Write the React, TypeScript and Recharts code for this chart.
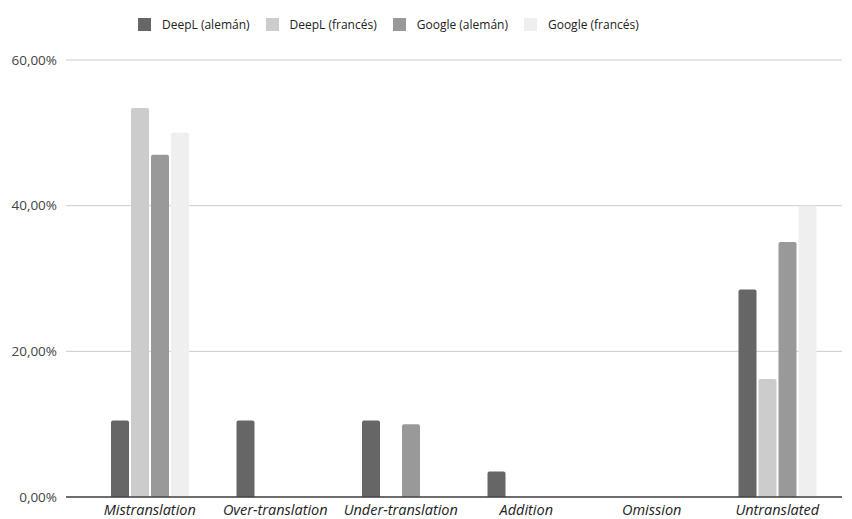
import React from "react";
import {
  BarChart,
  Bar,
  XAxis,
  YAxis,
  CartesianGrid,
  Legend,
} from "recharts";

const categories = [
  "Mistranslation",
  "Over-translation",
  "Under-translation",
  "Addition",
  "Omission",
  "Untranslated",
];
const deeplAleman = [10.5, 10.5, 10.5, 3.5, 0, 28.5];
const deeplFrances = [53.4, 0, 0, 0, 0, 16.2];
const googleAleman = [47, 0, 10, 0, 0, 35];
const googleFrances = [50, 0, 0, 0, 0, 40];
const yTicks = [0, 20, 40, 60];

const series = [
  { key: "deeplAleman", name: "DeepL (alemán)", color: "#666666" },
  { key: "deeplFrances", name: "DeepL (francés)", color: "#cccccc" },
  { key: "googleAleman", name: "Google (alemán)", color: "#999999" },
  { key: "googleFrances", name: "Google (francés)", color: "#efefef" },
];

const data = categories.map((c, i) => ({
  category: c,
  deeplAleman: deeplAleman[i],
  deeplFrances: deeplFrances[i],
  googleAleman: googleAleman[i],
  googleFrances: googleFrances[i],
}));

const font = "'Open Sans', sans-serif";

const fmt = (v: number) => `${v.toFixed(2).replace(".", ",")}%`;

const LegendContent = () => (
  <div
    style={{
      display: "flex",
      justifyContent: "flex-start",
      alignItems: "center",
      gap: 16,
      fontFamily: font,
      fontSize: 12,
      color: "#222",
      paddingLeft: 138,
    }}
  >
    {series.map((s) => (
      <div key={s.key} style={{ display: "flex", alignItems: "center", gap: 11 }}>
        <span
          style={{
            display: "inline-block",
            width: 13,
            height: 13,
            background: s.color,
          }}
        />
        <span>{s.name}</span>
      </div>
    ))}
  </div>
);

const XTick = (props: any) => {
  const { x, y, payload } = props;
  return (
    <text
      x={x}
      y={y + 10}
      textAnchor="middle"
      fontFamily={font}
      fontSize={14.5}
      fontStyle="italic"
      fill="#222"
    >
      {payload.value}
    </text>
  );
};

export default function App() {
  return (
    <div style={{ position: "absolute", left: 0, top: 0, background: "#fff" }}>
      <BarChart
        width={852}
        height={519}
        data={data}
        margin={{ top: 43, right: 10, bottom: 0, left: 0 }}
        barSize={18}
        barGap={2}
      >
        <CartesianGrid vertical={false} stroke="#cccccc" />
        <Legend
          verticalAlign="top"
          height={17}
          content={<LegendContent />}
          wrapperStyle={{ top: 16, left: 0, width: 852 }}
        />
        <XAxis
          dataKey="category"
          height={22}
          tickLine={false}
          axisLine={{ stroke: "#444444", strokeWidth: 1.5 }}
          padding={{ left: 21, right: 2 }}
          tick={<XTick />}
          interval={0}
        />
        <YAxis
          width={66}
          domain={[0, 60]}
          ticks={yTicks}
          tickFormatter={fmt}
          tickLine={false}
          axisLine={false}
          tickSize={0}
          tickMargin={9}
          tick={{ fontFamily: font, fontSize: 13.5, fill: "#444" }}
        />
        {series.map((s) => (
          <Bar
            key={s.key}
            dataKey={s.key}
            name={s.name}
            fill={s.color}
            radius={[2, 2, 0, 0]}
            isAnimationActive={false}
          />
        ))}
      </BarChart>
    </div>
  );
}
